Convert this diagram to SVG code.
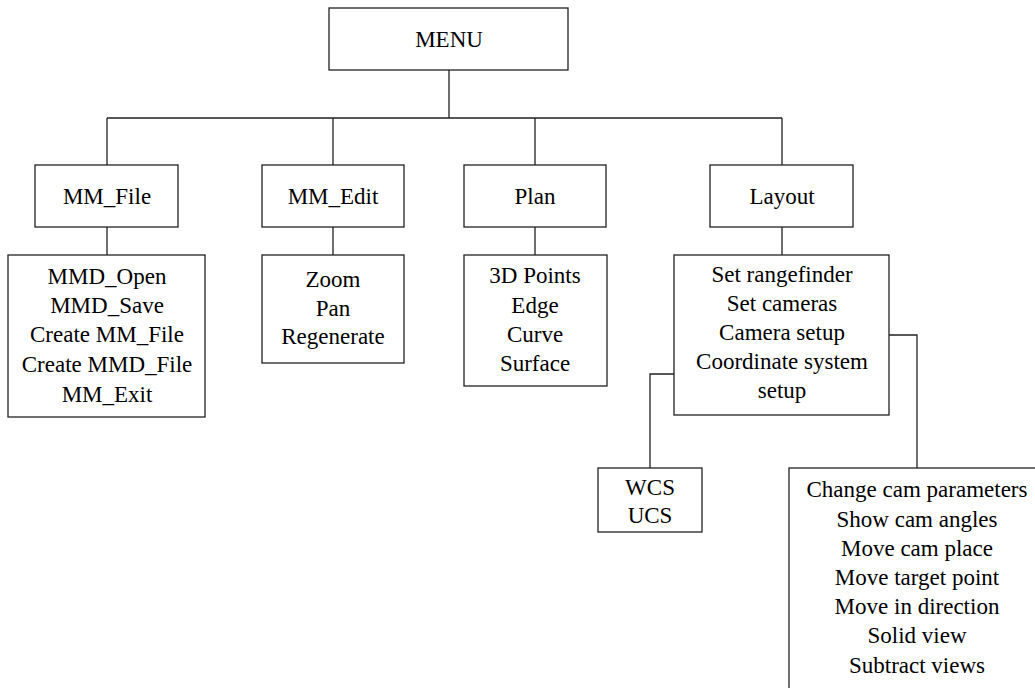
<svg xmlns="http://www.w3.org/2000/svg" width="1035" height="688" viewBox="0 0 1035 688">
<style>
rect{fill:#fff;stroke:#222;stroke-width:1.3}
.c{fill:none;stroke:#222;stroke-width:1.3}
text{font-size:23px;fill:#000;text-anchor:middle}
</style>
<rect x="0" y="0" width="1035" height="688" style="stroke:none"/>
<g id="connectors">
<path class="c" d="M449 70V118M107 118H782M107 118V165M333 118V165M535 118V165M782 118V165"/>
<path class="c" d="M107 227V255M333 227V255M535 227V255M782 227V255"/>
<path class="c" d="M674 374H650V468M889 335H917V468"/>
</g>
<g font-family="Liberation Serif, Times New Roman, Tinos, DejaVu Serif, serif">
<g id="menu"><rect x="329" y="8" width="239" height="62"/><text x="449" y="47">MENU</text></g>
<g id="mm_file"><rect x="35" y="165" width="143" height="62"/><text x="107" y="204">MM_File</text></g>
<g id="mm_edit"><rect x="262" y="165" width="142" height="62"/><text x="333" y="204">MM_Edit</text></g>
<g id="plan"><rect x="464" y="165" width="142" height="62"/><text x="535" y="204">Plan</text></g>
<g id="layout"><rect x="710" y="165" width="143" height="62"/><text x="782" y="204">Layout</text></g>
<g id="file_items"><rect x="8" y="255" width="197" height="162"/>
<text x="107" y="284">MMD_Open</text><text x="107" y="313">MMD_Save</text><text x="107" y="342">Create MM_File</text><text x="107" y="372">Create MMD_File</text><text x="107" y="402">MM_Exit</text></g>
<g id="edit_items"><rect x="262" y="255" width="142" height="108"/>
<text x="333" y="287">Zoom</text><text x="333" y="316">Pan</text><text x="333" y="344">Regenerate</text></g>
<g id="plan_items"><rect x="464" y="255" width="143" height="131"/>
<text x="535" y="283">3D Points</text><text x="535" y="313">Edge</text><text x="535" y="342">Curve</text><text x="535" y="371">Surface</text></g>
<g id="layout_items"><rect x="674" y="255" width="215" height="160"/>
<text x="782" y="282">Set rangefinder</text><text x="782" y="311">Set cameras</text><text x="782" y="340">Camera setup</text><text x="782" y="369">Coordinate system</text><text x="782" y="398">setup</text></g>
<g id="cs_items"><rect x="598" y="468" width="104" height="64"/>
<text x="650" y="495">WCS</text><text x="650" y="523">UCS</text></g>
<g id="cam_items"><rect x="789" y="468" width="300" height="260"/>
<text x="917" y="497">Change cam parameters</text><text x="917" y="527">Show cam angles</text><text x="917" y="556">Move cam place</text><text x="917" y="585">Move target point</text><text x="917" y="614">Move in direction</text><text x="917" y="643">Solid view</text><text x="917" y="673">Subtract views</text></g>
</g>
</svg>
